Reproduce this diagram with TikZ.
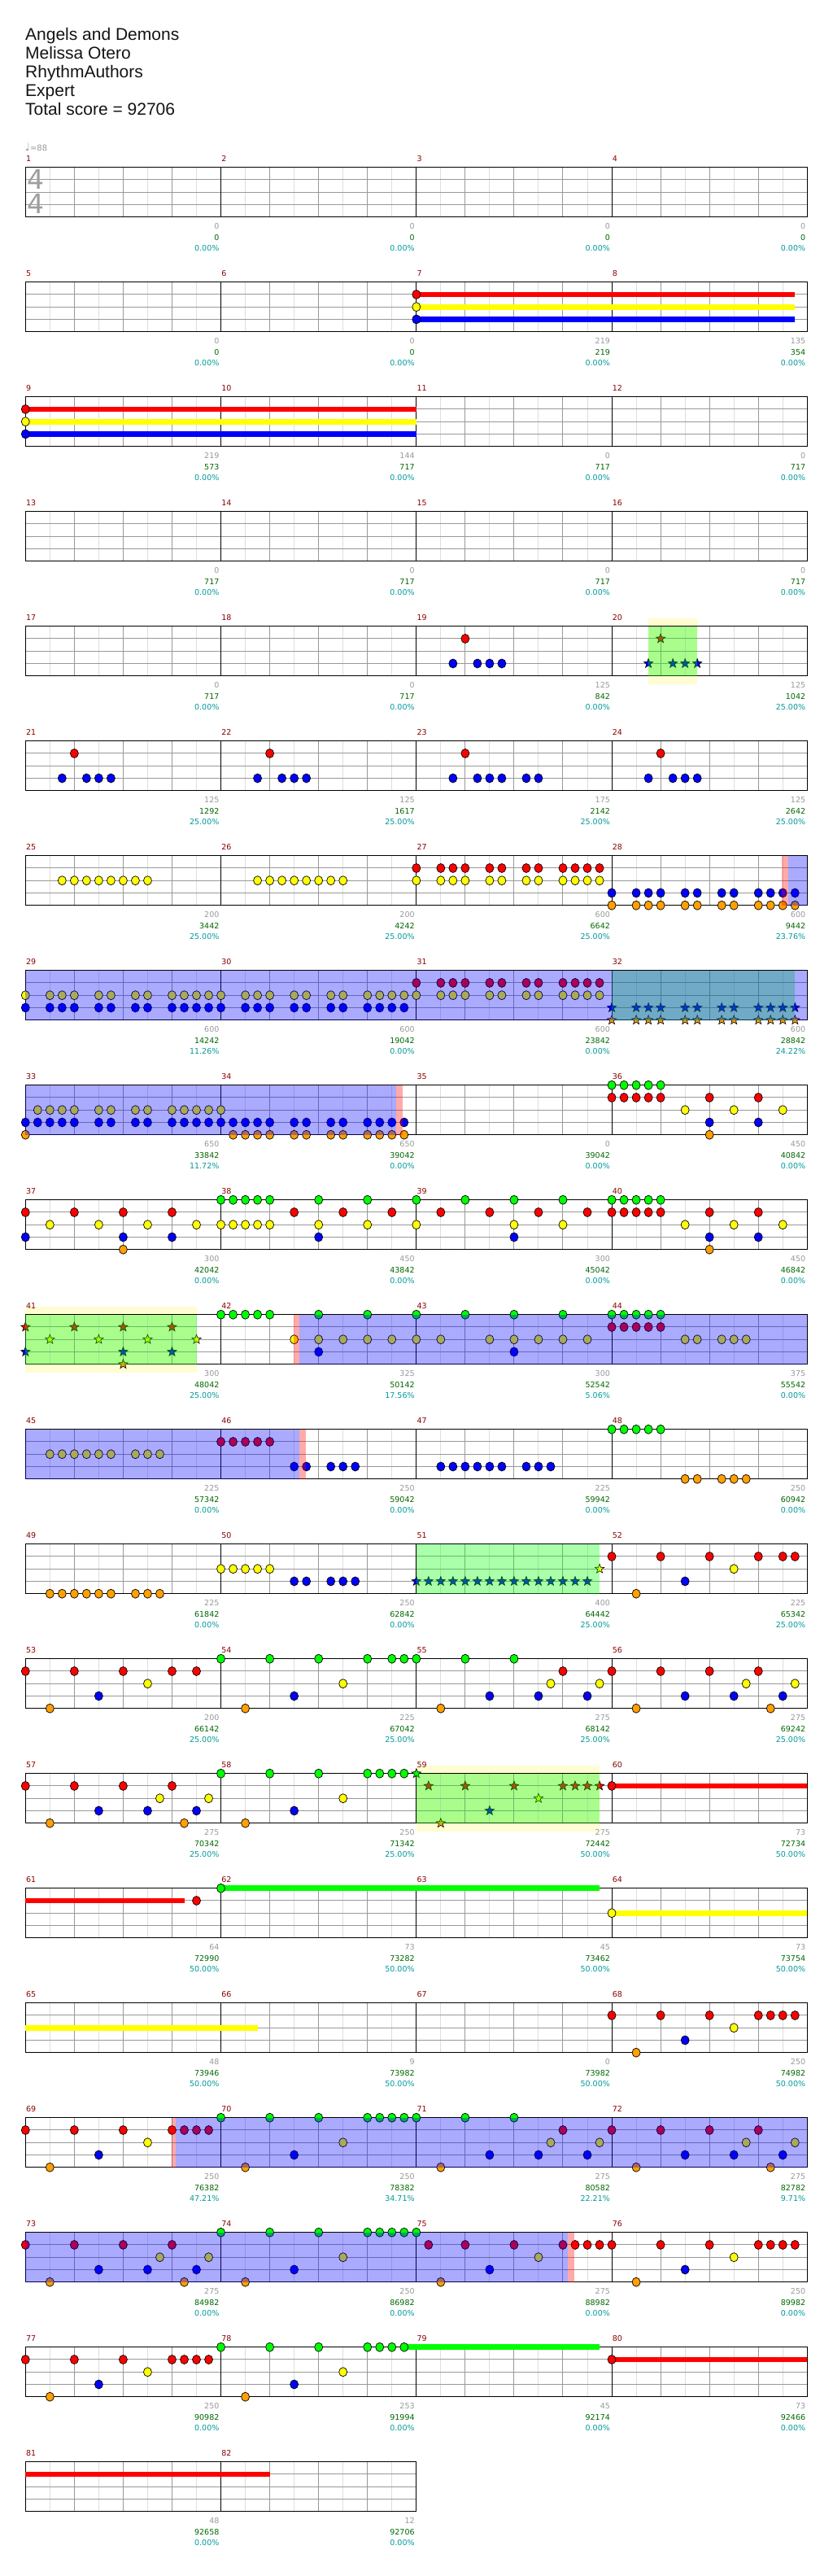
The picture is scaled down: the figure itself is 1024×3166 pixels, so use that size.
\documentclass[tikz,border=0pt]{standalone}
\usepackage{fontspec}
\setmainfont{DejaVu Sans}
\newfontfamily\titlefont{Liberation Sans}
\usetikzlibrary{shapes.geometric}

\definecolor{lane0}{RGB}{0,255,0}
\definecolor{lane1}{RGB}{255,0,0}
\definecolor{lane2}{RGB}{255,255,0}
\definecolor{lane3}{RGB}{0,0,255}
\definecolor{lane4}{RGB}{255,160,0}
\definecolor{numred}{RGB}{136,0,0}
\definecolor{numgray}{RGB}{153,153,153}
\definecolor{numgreen}{RGB}{0,102,0}
\definecolor{numteal}{RGB}{0,153,153}

% position of a note: measure, 16th, lane
\newcommand\setpos[3]{%
  \pgfmathtruncatemacro\rowi{(#1-1)/4}%
  \pgfmathtruncatemacro\coli{#1-1-4*\rowi}%
  \pgfmathsetmacro\notex{31.3+\coli*240.25+#2*15.0156}%
  \pgfmathsetmacro\rowy{205.7+\rowi*141}%
  \pgfmathsetmacro\notey{\rowy+#3*15.25}}

\newcommand\chartnote[4]{%
  \setpos{#1}{#2}{#3}%
  \ifnum#4=0\relax
    \draw[notehead,fill=lane#3] (\notex,\notey) ellipse [x radius=5,y radius=5.5];%
  \else
    \node[starhead,fill=lane#3] (st#1-#2-#3) at (\notex,\notey) {};%
  \fi}

\newcommand\notelist[3]{%
  \edef\tmplist{#3}%
  \foreach \p/\ls in \tmplist {\foreach \l in \ls {\chartnote{#1}{\p}{\l}{#2}}}}

\newcommand\sustainbar[5]{%
  \setpos{#1}{#2}{#5}\let\xstart\notex
  \setpos{#3}{#4}{#5}%
  \fill[lane#5] (\xstart,\notey-3.4) rectangle (\notex,\notey+3.4);}

\newcommand\spregion[5]{%
  \setpos{#1}{#2}{0}\let\xstart\notex
  \setpos{#3}{#4}{0}%
  \fill[#5] (\xstart,\rowy) rectangle (\notex,\rowy+61);}

\newcommand\phraseglow[3]{%
  \setpos{#1}{#2}{0}\let\xstart\notex
  \setpos{#1}{#3}{0}%
  \fill[glowfill] (\xstart,\rowy-10) rectangle (\notex,\rowy+71);}

% repeated bar patterns (16th/lane)
\newcommand\patPA{0/1,2/4,4/1,6/3,8/1,10/2,12/1,14/1,15/1}
\newcommand\patPB{0/1,2/4,4/1,6/3,8/1,10/2,12/1,14/1}
\newcommand\patPC{0/0,2/4,4/0,6/3,8/0,10/2,12/0,14/0,15/0}
\newcommand\patPD{0/0,2/4,4/0,6/3,8/0,10/3,11/2,12/1,14/3,15/2}
\newcommand\patPE{0/1,2/4,4/1,6/3,8/1,10/3,11/2,12/1,13/4,14/3,15/2}
\newcommand\patPF{0/0,2/4,4/0,6/3,8/0,10/2,12/0,13/0,14/0,15/0}
\newcommand\patPG{0/1,2/4,4/1,6/3,8/1,10/2,12/1,13/1,14/1,15/1}
\newcommand\patPH{0/0,1/1,2/4,4/1,6/3,8/1,10/2,12/1,13/1,14/1,15/1}
\newcommand\patPI{0/{1,3},2/2,4/1,6/2,8/{1,3,4},10/2,12/{1,3},14/2}

\begin{document}
\begin{tikzpicture}[x=1pt,y=-1pt,
  notehead/.style={draw=black,line width=0.7pt},
  starhead/.style={star,star points=5,star point ratio=2.4,minimum size=12pt,inner sep=0pt,draw=black,line width=0.6pt},
  eighthline/.style={draw=black!13,line width=1pt},
  beatline/.style={draw=black!40,line width=1pt},
  laneline/.style={draw=black!40,line width=1pt},
  barline/.style={draw=black,line width=0.8pt},
  staffborder/.style={draw=black,line width=1.2pt},
  spactive/.style={fill=blue,fill opacity=0.333},
  spphrase/.style={fill=lane0,fill opacity=0.333},
  spmark/.style={fill=red,fill opacity=0.333},
  glowfill/.style={fill=yellow!18},
  measnum/.style={anchor=west,inner sep=0pt,text=numred,font=\fontsize{9.5}{10}\selectfont},
  ptsgray/.style={anchor=east,inner sep=0pt,text=numgray,font=\fontsize{9.5}{10}\selectfont},
  ptsgreen/.style={anchor=east,inner sep=0pt,text=numgreen,font=\fontsize{9.5}{10}\selectfont},
  ptspct/.style={anchor=east,inner sep=0pt,text=numteal,font=\fontsize{9.5}{10}\selectfont},
  tempo/.style={anchor=west,inner sep=0pt,text=numgray,font=\fontsize{10}{11}\selectfont},
  timesig/.style={inner sep=0pt,text=black!38,font=\fontsize{33}{33}\selectfont},
  titleline/.style={anchor=base west,inner sep=0pt,text=black!92,font=\titlefont\fontsize{21}{23}\selectfont}
]
\useasboundingbox (0,0) rectangle (1024,3166);
\fill[white] (0,0) rectangle (1024,3166);

% title block
\foreach \t [count=\i] in {Angels and Demons,Melissa Otero,RhythmAuthors,Expert,Total score = 92706}
  \node[titleline] (title\i) at (31,26.3+\i*23) {\t};
\node[tempo] (bpm) at (30.7,180.5) {{\fontsize{13}{13}\selectfont♩}=88};

% star phrase glow
\phraseglow{20}{3}{7}
\phraseglow{41}{0}{14}
\phraseglow{59}{0}{15}

% staff rows
\foreach \r in {0,...,20}{
  \pgfmathsetmacro\ry{205.7+\r*141}
  \ifnum\r=20 \def\nm{2}\else\def\nm{4}\fi
  \pgfmathsetmacro\rx{31.3+\nm*240.25}
  \pgfmathtruncatemacro\kodd{8*\nm-1}
  \pgfmathtruncatemacro\keven{8*\nm-2}
  \pgfmathtruncatemacro\kbar{\nm-1}
  \foreach \k in {1,3,...,\kodd} \draw[eighthline] (31.3+\k*30.031,\ry) -- ++(0,61);
  \foreach \k in {2,4,...,\keven} \draw[beatline] (31.3+\k*30.031,\ry) -- ++(0,61);
  \foreach \k in {15.25,30.5,45.75} \draw[laneline] (31.3,\ry+\k) -- (\rx,\ry+\k);
  \foreach \k in {1,...,\kbar} \draw[barline] (31.3+\k*240.25,\ry) -- ++(0,61);
  \draw[staffborder] (31.3,\ry) rectangle (\rx,\ry+61);
}
\node[timesig] (tsup) at (44.3,220.4) {4};
\node[timesig] (tsdown) at (44.3,250.5) {4};

% sustains
\foreach \l in {1,2,3}{\sustainbar{7}{0}{8}{15}{\l}\sustainbar{9}{0}{10}{16}{\l}}
\sustainbar{60}{0}{60}{16}{1}
\sustainbar{61}{0}{61}{13}{1}
\sustainbar{62}{0}{63}{15}{0}
\sustainbar{64}{0}{64}{16}{2}
\sustainbar{65}{0}{66}{3}{2}
\sustainbar{78}{15}{79}{15}{0}
\sustainbar{80}{0}{80}{16}{1}
\sustainbar{81}{0}{82}{4}{1}

% notes
\notelist{7}{0}{0/{1,2,3}}
\notelist{9}{0}{0/{1,2,3}}
\foreach \m in {19,21,22,24}{\notelist{\m}{0}{3/3,4/1,5/3,6/3,7/3}}
\notelist{20}{1}{3/3,4/1,5/3,6/3,7/3}
\notelist{23}{0}{3/3,4/1,5/3,6/3,7/3,9/3,10/3}
\foreach \m in {25,26}{\notelist{\m}{0}{3/2,4/2,5/2,6/2,7/2,8/2,9/2,10/2}}
\foreach \m/\ls/\k in {27/{1,2}/0,28/{3,4}/0,29/{2,3}/0,30/{2,3}/0,31/{1,2}/0,32/{3,4}/1}
  {\foreach \p in {0,2,3,4,6,7,9,10,12,13,14,15}{\foreach \l in \ls {\chartnote{\m}{\p}{\l}{\k}}}}
\notelist{33}{0}{0/{3,4},1/{2,3},2/{2,3},3/{2,3},4/{2,3},6/{2,3},7/{2,3},9/{2,3},10/{2,3},12/{2,3},13/{2,3},14/{2,3},15/{2,3}}
\notelist{34}{0}{0/{2,3},1/{3,4},2/{3,4},3/{3,4},4/{3,4},6/{3,4},7/{3,4},9/{3,4},10/{3,4},12/{3,4},13/{3,4},14/{3,4},15/{3,4}}
\foreach \m in {36,40}{\notelist{\m}{0}{0/{0,1},1/{0,1},2/{0,1},3/{0,1},4/{0,1},6/2,8/{1,3,4},10/2,12/{1,3},14/2}}
\notelist{37}{0}{\patPI}
\notelist{38}{0}{0/{0,2},1/{0,2},2/{0,2},3/{0,2},4/{0,2},6/1,8/{0,2,3},10/1,12/{0,2},14/1}
\notelist{39}{0}{0/{0,2},2/1,4/0,6/1,8/{0,2,3},10/1,12/{0,2},14/1}
\notelist{41}{1}{\patPI}
\notelist{42}{0}{0/0,1/0,2/0,3/0,4/0,6/2,8/{0,2,3},10/2,12/{0,2},14/2}
\notelist{43}{0}{0/{0,2},2/2,4/0,6/2,8/{0,2,3},10/2,12/{0,2},14/2}
\notelist{44}{0}{0/{0,1},1/{0,1},2/{0,1},3/{0,1},4/{0,1},6/2,7/2,9/2,10/2,11/2}
\notelist{45}{0}{2/2,3/2,4/2,5/2,6/2,7/2,9/2,10/2,11/2}
\notelist{46}{0}{0/1,1/1,2/1,3/1,4/1,6/3,7/3,9/3,10/3,11/3}
\notelist{47}{0}{2/3,3/3,4/3,5/3,6/3,7/3,9/3,10/3,11/3}
\notelist{48}{0}{0/0,1/0,2/0,3/0,4/0,6/4,7/4,9/4,10/4,11/4}
\notelist{49}{0}{2/4,3/4,4/4,5/4,6/4,7/4,9/4,10/4,11/4}
\notelist{50}{0}{0/2,1/2,2/2,3/2,4/2,6/3,7/3,9/3,10/3,11/3}
\notelist{51}{1}{0/3,1/3,2/3,3/3,4/3,5/3,6/3,7/3,8/3,9/3,10/3,11/3,12/3,13/3,14/3,15/2}
\notelist{52}{0}{\patPA}
\notelist{53}{0}{\patPB}
\notelist{54}{0}{\patPC}
\foreach \m in {55,71}{\notelist{\m}{0}{\patPD}}
\foreach \m in {56,57,72,73}{\notelist{\m}{0}{\patPE}}
\foreach \m in {58,70,74,78}{\notelist{\m}{0}{\patPF}}
\foreach \m in {68,69,76,77}{\notelist{\m}{0}{\patPG}}
\notelist{59}{1}{\patPH}
\notelist{75}{0}{\patPH}
\notelist{60}{0}{0/1}
\notelist{61}{0}{14/1}
\notelist{62}{0}{0/0}
\notelist{64}{0}{0/2}
\notelist{80}{0}{0/1}

% star power phrases and activation
\spregion{20}{3}{20}{7}{spphrase}
\spregion{32}{0}{32}{15}{spphrase}
\spregion{41}{0}{41}{14}{spphrase}
\spregion{51}{0}{51}{15}{spphrase}
\spregion{59}{0}{59}{15}{spphrase}
\spregion{28}{14.45}{28}{16}{spactive}
\spregion{29}{0}{32}{16}{spactive}
\spregion{33}{0}{34}{14.35}{spactive}
\spregion{42}{6.43}{44}{16}{spactive}
\spregion{45}{0}{46}{6.43}{spactive}
\spregion{69}{12.32}{72}{16}{spactive}
\spregion{73}{0}{75}{12.37}{spactive}
\spregion{28}{13.93}{28}{14.45}{spmark}
\spregion{34}{14.35}{34}{14.91}{spmark}
\spregion{42}{5.99}{42}{6.43}{spmark}
\spregion{46}{6.43}{46}{6.95}{spmark}
\spregion{69}{11.97}{69}{12.32}{spmark}
\spregion{75}{12.37}{75}{12.94}{spmark}

% measure numbers and scores
\foreach \m/\ga/\gb/\pc in {
  1/0/0/0.00,2/0/0/0.00,3/0/0/0.00,4/0/0/0.00,
  5/0/0/0.00,6/0/0/0.00,7/219/219/0.00,8/135/354/0.00,
  9/219/573/0.00,10/144/717/0.00,11/0/717/0.00,12/0/717/0.00,
  13/0/717/0.00,14/0/717/0.00,15/0/717/0.00,16/0/717/0.00,
  17/0/717/0.00,18/0/717/0.00,19/125/842/0.00,20/125/1042/25.00,
  21/125/1292/25.00,22/125/1617/25.00,23/175/2142/25.00,24/125/2642/25.00,
  25/200/3442/25.00,26/200/4242/25.00,27/600/6642/25.00,28/600/9442/23.76,
  29/600/14242/11.26,30/600/19042/0.00,31/600/23842/0.00,32/600/28842/24.22,
  33/650/33842/11.72,34/650/39042/0.00,35/0/39042/0.00,36/450/40842/0.00,
  37/300/42042/0.00,38/450/43842/0.00,39/300/45042/0.00,40/450/46842/0.00,
  41/300/48042/25.00,42/325/50142/17.56,43/300/52542/5.06,44/375/55542/0.00,
  45/225/57342/0.00,46/250/59042/0.00,47/225/59942/0.00,48/250/60942/0.00,
  49/225/61842/0.00,50/250/62842/0.00,51/400/64442/25.00,52/225/65342/25.00,
  53/200/66142/25.00,54/225/67042/25.00,55/275/68142/25.00,56/275/69242/25.00,
  57/275/70342/25.00,58/250/71342/25.00,59/275/72442/50.00,60/73/72734/50.00,
  61/64/72990/50.00,62/73/73282/50.00,63/45/73462/50.00,64/73/73754/50.00,
  65/48/73946/50.00,66/9/73982/50.00,67/0/73982/50.00,68/250/74982/50.00,
  69/250/76382/47.21,70/250/78382/34.71,71/275/80582/22.21,72/275/82782/9.71,
  73/275/84982/0.00,74/250/86982/0.00,75/275/88982/0.00,76/250/89982/0.00,
  77/250/90982/0.00,78/253/91994/0.00,79/45/92174/0.00,80/73/92466/0.00,
  81/48/92658/0.00,82/12/92706/0.00}{
  \setpos{\m}{16}{0}
  \node[ptsgray] (pg\m) at (\notex-2,\rowy+72.7) {\ga};
  \node[ptsgreen] (pt\m) at (\notex-2,\rowy+86) {\gb};
  \node[ptspct] (pp\m) at (\notex-2,\rowy+99) {\pc\%};
  \setpos{\m}{0}{0}
  \node[measnum] (mn\m) at (\notex+0.5,\rowy-11) {\m};
}
\end{tikzpicture}
\end{document}
